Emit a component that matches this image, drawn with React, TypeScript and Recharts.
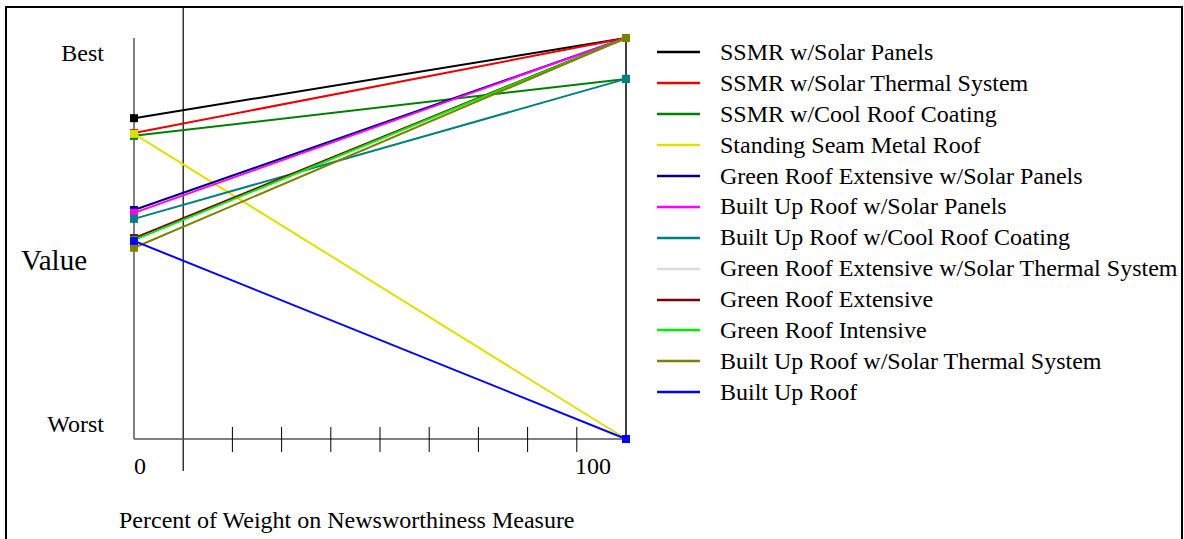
import React from 'react';
import { LineChart, Line, XAxis, YAxis, ReferenceLine } from 'recharts';

const weights = [0, 100];
const axisTicks = [0, 10, 20, 30, 40, 50, 60, 70, 80, 90, 100];
const currentWeight = 10;

const seriesNames = [
  'SSMR w/Solar Panels',
  'SSMR w/Solar Thermal System',
  'SSMR w/Cool Roof Coating',
  'Standing Seam Metal Roof',
  'Green Roof Extensive w/Solar Panels',
  'Built Up Roof w/Solar Panels',
  'Built Up Roof w/Cool Roof Coating',
  'Green Roof Extensive w/Solar Thermal System',
  'Green Roof Extensive',
  'Green Roof Intensive',
  'Built Up Roof w/Solar Thermal System',
  'Built Up Roof',
];

const seriesColors = [
  '#000000', '#ee0000', '#008000', '#e0e000', '#000080', '#ff00ff',
  '#008080', '#dddddd', '#800000', '#00ee00', '#808000', '#0000ff',
];

// value at 0% weight and at 100% weight (0 = Worst, 1 = Best)
const valuesAt0 = [0.8, 0.763, 0.756, 0.761, 0.571, 0.564, 0.549, 0.5, 0.501, 0.496, 0.477, 0.494];
const valuesAt100 = [1, 1, 0.898, 0, 1, 1, 0.898, 1, 1, 1, 1, 0];

const data = weights.map((w, i) => {
  const row: Record<string, number> = { weight: w };
  seriesNames.forEach((name, s) => {
    row[name] = i === 0 ? valuesAt0[s] : valuesAt100[s];
  });
  return row;
});

const FONT = '"Liberation Serif", "Times New Roman", serif';

const SquareDot = (color: string) => (props: any) => {
  const { cx, cy, index } = props;
  if (cx == null || cy == null) return <g key={index} />;
  return <rect key={index} x={cx - 4} y={cy - 4} width={8} height={8} fill={color} />;
};

const XTick = (props: any) => {
  const { x, y, payload } = props;
  const v = payload.value;
  if (v === 0) {
    return <text x={x} y={y + 35} fontSize={24} fontFamily={FONT} fill="#000">0</text>;
  }
  if (v === 100) {
    return <text x={x - 15} y={y + 35} fontSize={24} fontFamily={FONT} fill="#000" textAnchor="end">100</text>;
  }
  if (v === currentWeight) return <g />;
  return <line x1={x} x2={x} y1={y - 12} y2={y + 13} stroke="#000" strokeWidth={1} />;
};

const YTick = (props: any) => {
  const { x, y, payload } = props;
  const best = payload.value === 1;
  return (
    <text x={x - 30} y={best ? y + 23 : y - 7} textAnchor="end" fontSize={24} fontFamily={FONT} fill="#000">
      {best ? 'Best' : 'Worst'}
    </text>
  );
};

const LegendBox = () => (
  <div style={{ position: 'absolute', left: 657, top: 37, fontFamily: FONT, fontSize: 24, color: '#000' }}>
    {seriesNames.map((name, i) => (
      <div key={name} style={{ height: 30.9, display: 'flex', alignItems: 'center', whiteSpace: 'nowrap' }}>
        <svg width={43} height={4} style={{ display: 'block' }}>
          <line x1={0} x2={43} y1={2} y2={2} stroke={seriesColors[i]} strokeWidth={2.5} />
        </svg>
        <span style={{ marginLeft: 20 }}>{name}</span>
      </div>
    ))}
  </div>
);

export default function App() {
  return (
    <div style={{ position: 'absolute', left: 0, top: 0, width: 1184, height: 539, overflow: 'hidden', background: '#fff' }}>
      <div
        style={{
          position: 'absolute', left: 5, top: 6, width: 1178, height: 600,
          border: '2.5px solid #000', boxSizing: 'border-box',
        }}
      />
      <div style={{ position: 'absolute', left: 0, top: 0 }}>
        <LineChart
          width={1184}
          height={539}
          data={data}
          margin={{ top: 38, right: 558, bottom: 40, left: 34 }}
        >
          <XAxis
            dataKey="weight"
            type="number"
            domain={[0, 100]}
            ticks={axisTicks}
            interval={0}
            height={60}
            tickSize={0}
            tickMargin={0}
            tickLine={false}
            axisLine={{ stroke: '#555', strokeWidth: 1.5 }}
            tick={<XTick />}
            label={{
              content: (p: any) => (
                <text x={p.viewBox.x - 15} y={p.viewBox.y + 89} fontSize={24} fontFamily={FONT} fill="#000">
                  Percent of Weight on Newsworthiness Measure
                </text>
              ),
            }}
          />
          <YAxis
            type="number"
            domain={[0, 1]}
            ticks={[0, 1]}
            width={100}
            tickSize={0}
            tickMargin={0}
            tickLine={false}
            axisLine={{ stroke: '#555', strokeWidth: 1.5 }}
            tick={<YTick />}
            label={{
              content: (p: any) => (
                <text x={p.viewBox.x - 13} y={p.viewBox.y + 232} fontSize={29} fontFamily={FONT} fill="#000">
                  Value
                </text>
              ),
            }}
          />
          <ReferenceLine x={100} stroke="#000" strokeWidth={1.5} />
          <ReferenceLine
            segment={[{ x: currentWeight, y: 1.076 }, { x: currentWeight, y: -0.08 }]}
            ifOverflow="visible"
            stroke="#000"
            strokeWidth={1.2}
          />
          {seriesNames.map((name, i) => (
            <Line
              key={name}
              type="linear"
              dataKey={name}
              stroke={seriesColors[i]}
              strokeWidth={2}
              dot={SquareDot(seriesColors[i])}
              activeDot={false}
              isAnimationActive={false}
            />
          ))}
        </LineChart>
      </div>
      <LegendBox />
    </div>
  );
}
